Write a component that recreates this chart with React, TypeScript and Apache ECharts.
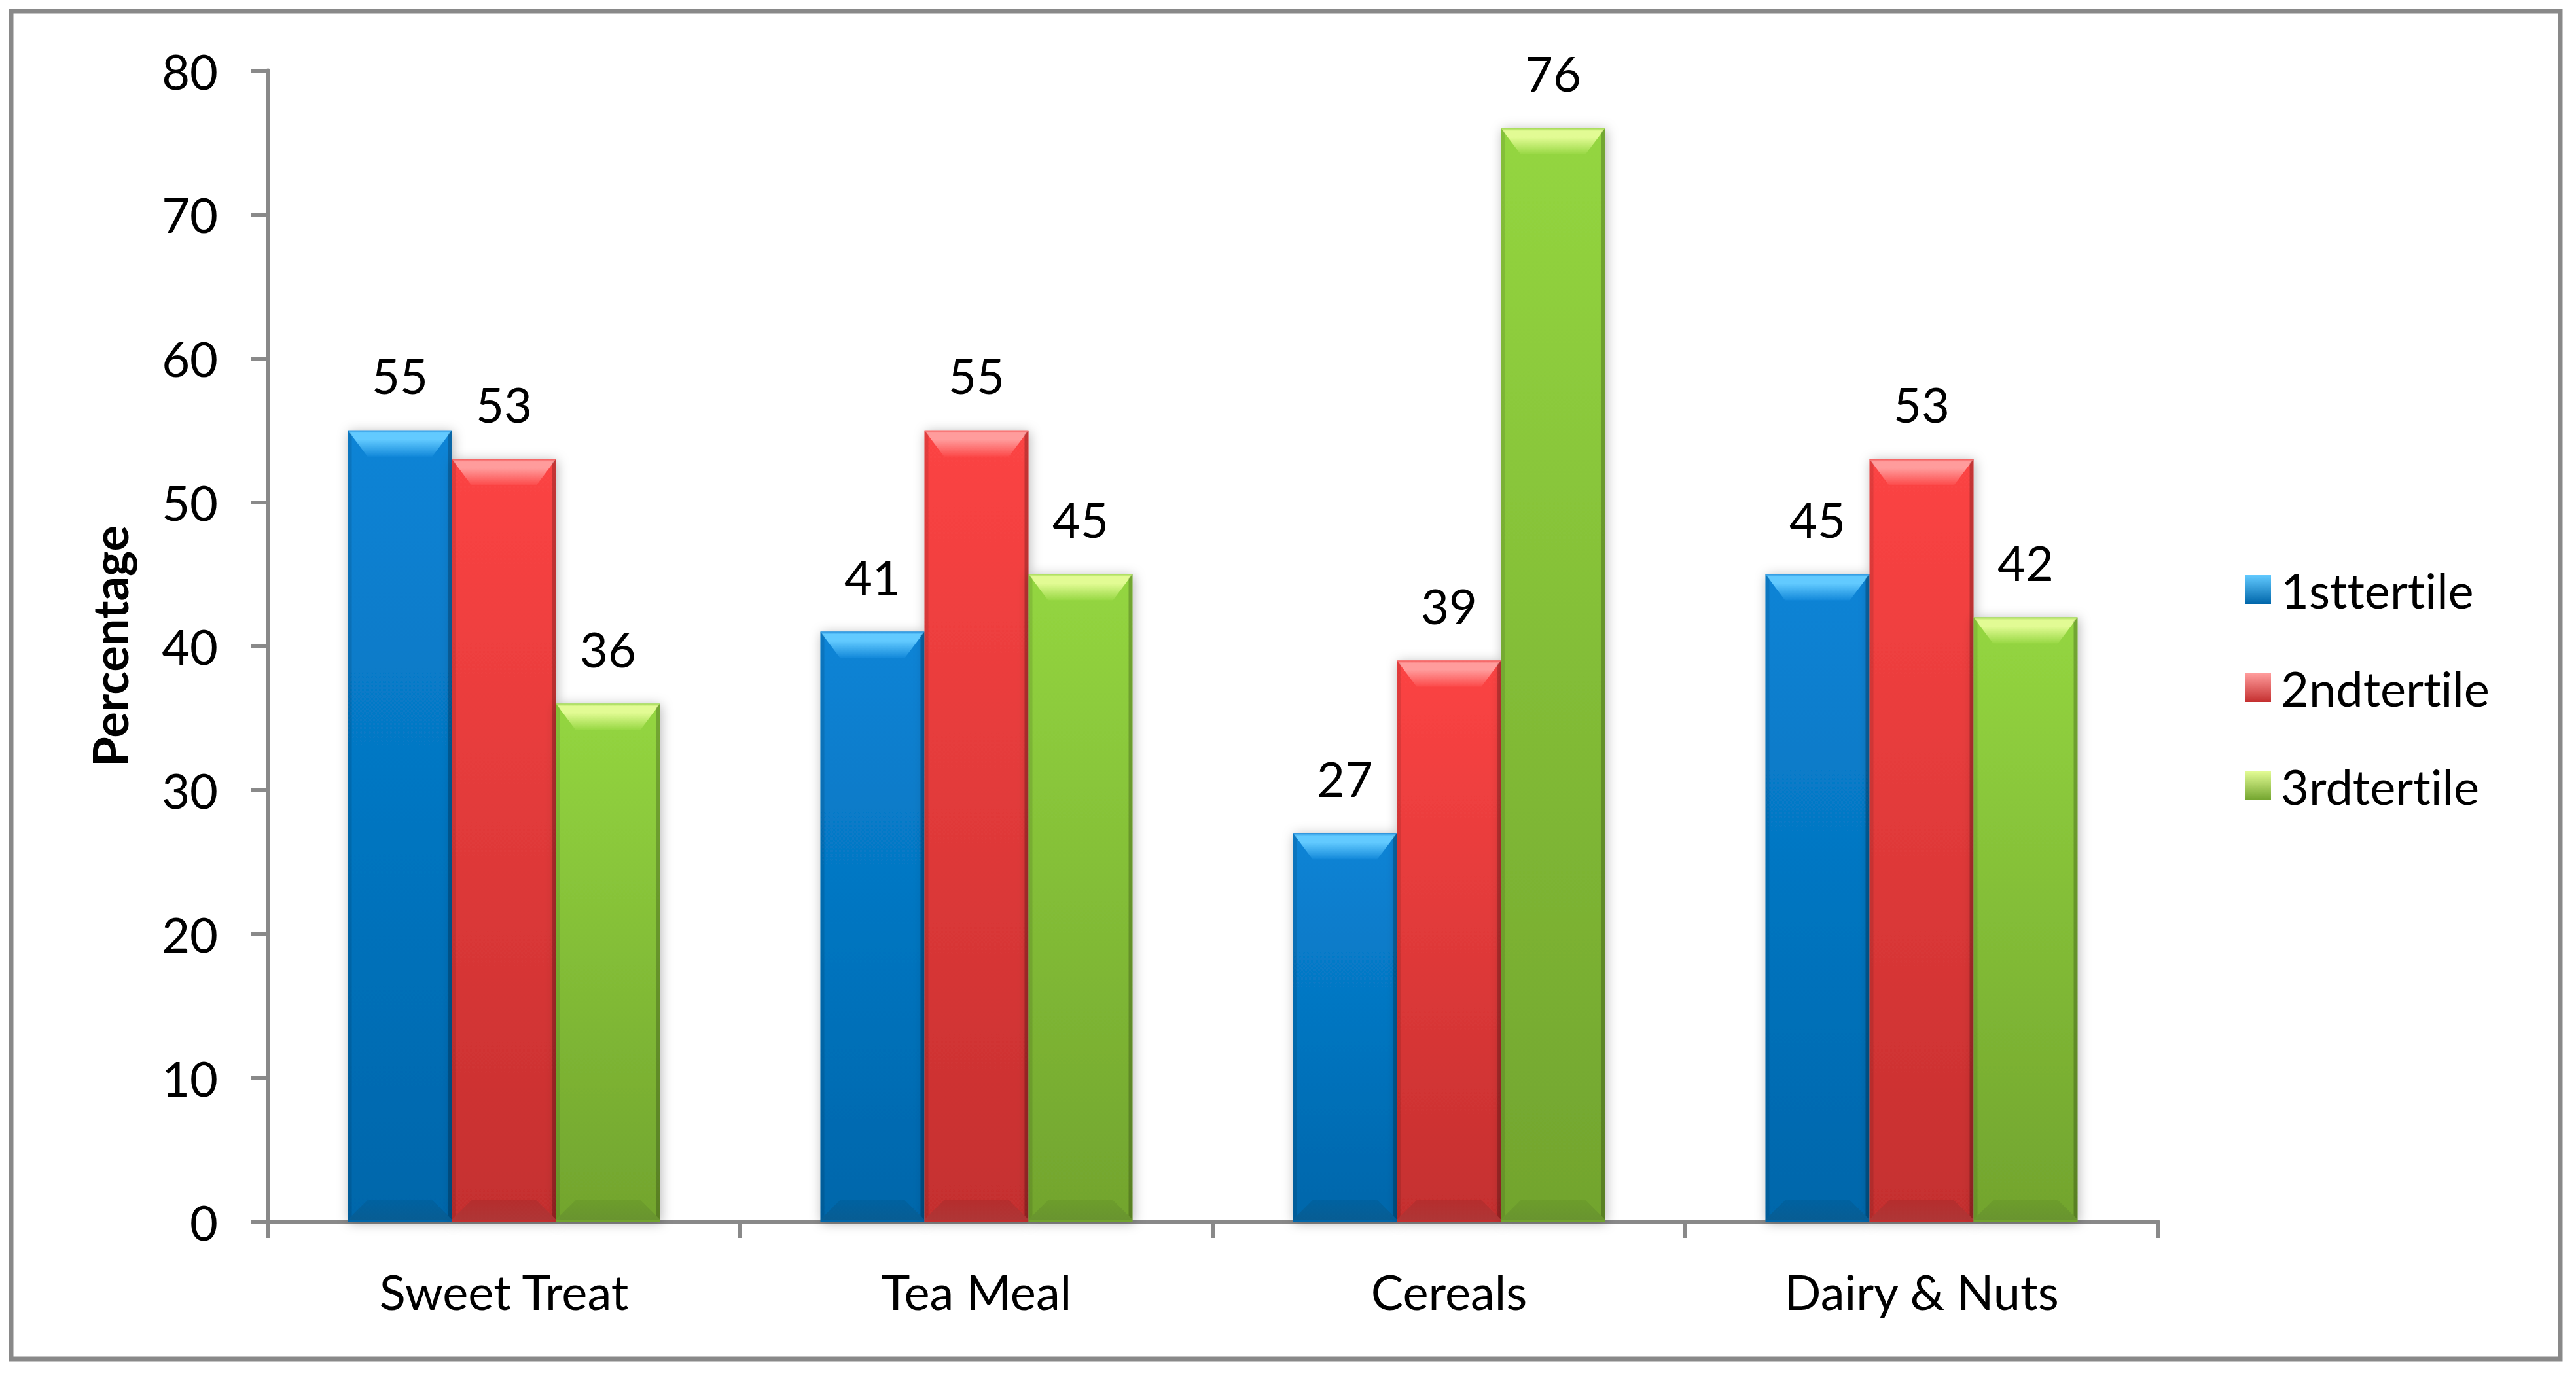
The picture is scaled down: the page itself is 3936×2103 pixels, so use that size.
import React, { useEffect, useRef } from "react";
import * as echarts from "echarts";

const categories = ["Sweet Treat", "Tea Meal", "Cereals", "Dairy & Nuts"];
const seriesNames = ["1sttertile", "2ndtertile", "3rdtertile"];
const tertile1 = [55, 41, 27, 45];
const tertile2 = [53, 55, 39, 53];
const tertile3 = [36, 45, 76, 42];
const yMin = 0;
const yMax = 80;
const yInterval = 10;

const seriesValues = [tertile1, tertile2, tertile3];

const BAR_W = 159;
const FONT = "Lato";
const AXIS_GRAY = "#898989";

const palettes = [
  { bodyTop: "#0a84d6", bodyBot: "#0066aa", edge: "#2a92dc", hiTop: "#62caff", hiBot: "#1389da", lowTop: "#005f9c", lowBot: "#0a5a8c" },
  { bodyTop: "#fc4444", bodyBot: "#c42f2f", edge: "#f25a5a", hiTop: "#ff9c9c", hiBot: "#fc4a4a", lowTop: "#b02c2c", lowBot: "#a83838" },
  { bodyTop: "#94d640", bodyBot: "#72a42e", edge: "#a2d856", hiTop: "#e2fb94", hiBot: "#98d844", lowTop: "#6a9a2a", lowBot: "#668f30" },
];

function vgrad(a: string, b: string) {
  return { type: "linear", x: 0, y: 0, x2: 0, y2: 1, colorStops: [{ offset: 0, color: a }, { offset: 1, color: b }] };
}

function hiGrad(p: any) {
  return {
    type: "linear",
    x: 0,
    y: 0,
    x2: 0,
    y2: 1,
    colorStops: [
      { offset: 0, color: p.edge },
      { offset: 0.1, color: p.hiTop },
      { offset: 0.35, color: p.hiTop },
      { offset: 1, color: p.hiBot },
    ],
  };
}

export default function App() {
  const ref = useRef<HTMLDivElement>(null);
  useEffect(() => {
    if (!ref.current) return;
    const chart = echarts.init(ref.current, null, { renderer: "svg" });

    const bevelData: number[][] = [];
    seriesValues.forEach((vals, s) => vals.forEach((v, c) => bevelData.push([c, v, s])));

    const barSeries = seriesNames.map((name, s) => ({
      name,
      type: "bar",
      data: seriesValues[s],
      barWidth: BAR_W,
      barGap: "0%",
      z: 2,
      itemStyle: {
        color: vgrad(palettes[s].bodyTop, palettes[s].bodyBot),
        shadowBlur: 18,
        shadowColor: "rgba(0,0,0,0.28)",
        shadowOffsetX: 2,
        shadowOffsetY: 2,
      },
      label: {
        show: true,
        position: "top",
        distance: 44,
        fontFamily: FONT,
        fontSize: 74,
        lineHeight: 80,
        color: "#000",
      },
    }));

    const option: any = {
      animation: false,
      backgroundColor: "#ffffff",
      grid: { left: 409, right: 639, top: 108, bottom: 236, containLabel: false },
      legend: {
        data: seriesNames.map((n, s) => ({ name: n, itemStyle: { color: vgrad(palettes[s].hiTop, palettes[s].bodyBot) } })),
        orient: "vertical",
        left: 3425,
        top: 856,
        itemWidth: 40,
        itemHeight: 44,
        itemGap: 70,
        icon: "rect",
        textStyle: { fontFamily: FONT, fontSize: 74, lineHeight: 80, color: "#000", padding: [0, 0, 0, 10] },
      },
      xAxis: {
        type: "category",
        data: categories,
        axisLine: { show: true, lineStyle: { color: AXIS_GRAY, width: 7 } },
        axisTick: { show: true, alignWithLabel: false, interval: 0, length: 25, lineStyle: { color: AXIS_GRAY, width: 6 } },
        axisLabel: { fontFamily: FONT, fontSize: 74, lineHeight: 80, color: "#000", margin: 66, interval: 0 },
        splitLine: { show: false },
      },
      yAxis: {
        type: "value",
        min: yMin,
        max: yMax,
        interval: yInterval,
        name: "Percentage",
        nameLocation: "middle",
        nameGap: 205,
        nameTextStyle: { fontFamily: FONT, fontSize: 74, fontWeight: "bold", color: "#000" },
        axisLine: { show: true, lineStyle: { color: AXIS_GRAY, width: 7 } },
        axisTick: { show: true, length: 26, lineStyle: { color: AXIS_GRAY, width: 6 } },
        axisLabel: { fontFamily: FONT, fontSize: 74, lineHeight: 80, color: "#000", margin: 76 },
        splitLine: { show: false },
      },
      graphic: [
        {
          type: "rect",
          shape: { x: 17, y: 17, width: 3895, height: 2060 },
          style: { fill: "none", stroke: AXIS_GRAY, lineWidth: 7 },
          z: 100,
          silent: true,
        },
      ],
      series: [
        ...barSeries,
        {
          name: "bevel",
          type: "custom",
          silent: true,
          z: 3,
          data: bevelData,
          encode: { x: 0, y: 1 },
          renderItem: (params: any, api: any) => {
            const cat = api.value(0);
            const val = api.value(1);
            const s = api.value(2);
            const p = palettes[s];
            const top = api.coord([cat, val]);
            const base = api.coord([cat, 0]);
            const x0 = top[0] - 1.5 * BAR_W + s * BAR_W;
            const x1 = x0 + BAR_W;
            const y0 = top[1];
            const yb = base[1] - 3;
            const dy = 40;
            const dx = 30;
            const e = 6;
            return {
              type: "group",
              children: [
                {
                  type: "polygon",
                  shape: { points: [[x0, y0], [x1, y0], [x1 - dx, y0 + dy], [x0 + dx, y0 + dy]] },
                  style: { fill: hiGrad(p) },
                },
                {
                  type: "polygon",
                  shape: { points: [[x0, yb], [x1, yb], [x1 - dx, yb - 30], [x0 + dx, yb - 30]] },
                  style: { fill: vgrad(p.lowTop, p.lowBot), opacity: 0.75 },
                },
                {
                  type: "polygon",
                  shape: { points: [[x0, y0], [x0 + e, y0 + e], [x0 + e, yb - e], [x0, yb]] },
                  style: { fill: "rgba(0,0,0,0.10)" },
                },
                {
                  type: "polygon",
                  shape: { points: [[x1, y0], [x1 - e, y0 + e], [x1 - e, yb - e], [x1, yb]] },
                  style: { fill: "rgba(0,0,0,0.22)" },
                },
              ],
            };
          },
        },
      ],
    };
    chart.setOption(option);
    return () => chart.dispose();
  }, []);
  return (
    <div
      ref={ref}
      style={{ position: "fixed", left: 0, top: 0, width: 3936, height: 2103, background: "#fff", fontVariantLigatures: "none" }}
    />
  );
}
